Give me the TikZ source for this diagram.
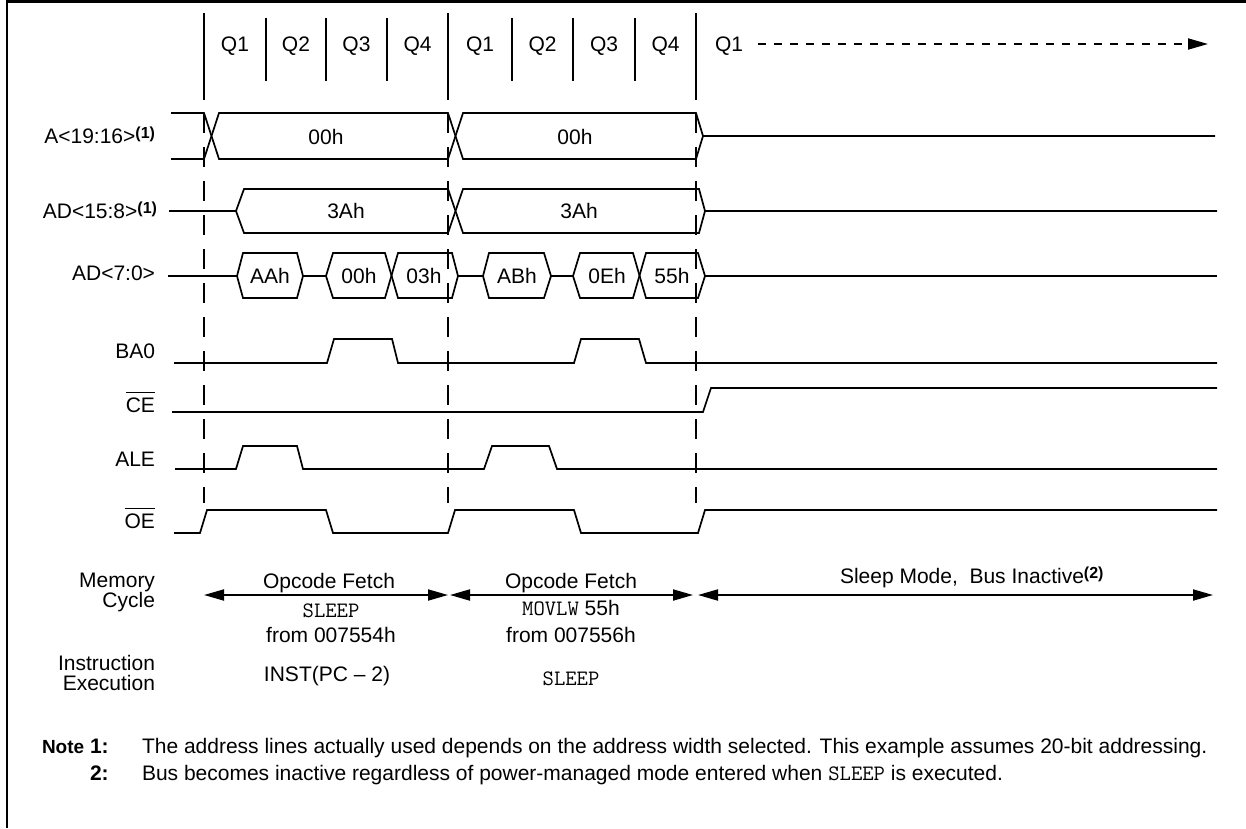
\documentclass[tikz,border=0pt]{standalone}
\usepackage{fontspec}
\setmainfont{Liberation Sans}
\usetikzlibrary{arrows.meta}
\newcommand\supn[1]{\raisebox{5pt}{\fontsize{16}{16}\selectfont\bfseries(#1)}}
\newcommand\ovl[1]{\leavevmode\vbox{\hrule height 1.5pt\kern 4pt\hbox{#1}}}
\newcommand\cw[1]{{\fontsize{22}{21}\selectfont\ttfamily #1}}
\begin{document}
\begin{tikzpicture}[x=1pt,y=-1pt,
  every node/.style={inner sep=0pt,outer sep=0pt,font=\fontsize{21}{21}\selectfont},
  >={Triangle[length=20pt,width=11pt]},
  sig/.style={line width=1.7pt,line join=miter},
  hdr/.style={line width=1.9pt},
  dsh/.style={line width=1.9pt,dash pattern=on 20pt off 14pt},
  frm/.style={line width=2.6pt},
  lbl/.style={anchor=base east},
  txt/.style={anchor=base},
  marr/.style={line width=1.9pt,<->}]
\useasboundingbox (0,0) rectangle (1246,828);
% frame
\draw[frm] (6,1.3) -- (1246,1.3);
\draw[frm] (7,0) -- (7,828);
% header
\foreach \x in {204,448,696} \draw[hdr] (\x,13) -- (\x,100);
\foreach \x in {266,326,387,512,573,635} \draw[hdr] (\x,18) -- (\x,81);
\node[txt] (q11) at (235,51) {Q1};
\node[txt] (q12) at (296,51) {Q2};
\node[txt] (q13) at (356.5,51) {Q3};
\node[txt] (q14) at (417.5,51) {Q4};
\node[txt] (q21) at (480,51) {Q1};
\node[txt] (q22) at (542.5,51) {Q2};
\node[txt] (q23) at (604,51) {Q3};
\node[txt] (q24) at (665.5,51) {Q4};
\node[anchor=base west] (q31) at (715,51) {Q1};
\coordinate (qa) at (758,44);
\coordinate (qb) at (1208,44);
\draw[line width=1.9pt,dash pattern=on 8pt off 8pt,->] (qa) -- (qb);
% dashed cycle boundaries
\foreach \x in {204,448,696} \draw[dsh] (\x,113) -- (\x,503);
% signal labels
\node[lbl] (lA) at (155,143) {A<19:16>\supn{1}};
\node[lbl] (lAD) at (157,218) {AD<15:8>\supn{1}};
\node[lbl] (lAD7) at (155,280) {AD<7:0>};
\node[lbl] (lBA) at (155,358) {BA0};
\node[lbl] (lCE) at (155,412) {\ovl{CE}};
\node[lbl] (lALE) at (155,466) {ALE};
\node[lbl] (lOE) at (155,528) {\ovl{OE}};
% A<19:16>
\draw[sig] (171,113) -- (204,113) -- (219,159) -- (448,159) -- (463,113) -- (696,113) -- (703,136) -- (1215,136);
\draw[sig] (171,159) -- (204,159) -- (219,113) -- (448,113) -- (463,159) -- (696,159) -- (703,136);
\node[txt] (a1) at (326,144) {00h};
\node[txt] (a2) at (575,144) {00h};
% AD<15:8>
\draw[sig] (169,211) -- (236,211) -- (244,189) -- (448,189) -- (463,233) -- (699,233) -- (705,211) -- (1217,211);
\draw[sig] (236,211) -- (244,233) -- (448,233) -- (463,189) -- (699,189) -- (705,211);
\node[txt] (b1) at (346,218) {3Ah};
\node[txt] (b2) at (579,218) {3Ah};
% AD<7:0>
\draw[sig] (168,276) -- (237,276);
\draw[sig] (237,276) -- (243,253) -- (297,253) -- (303,276) -- (297,298) -- (243,298) -- cycle;
\draw[sig] (303,276) -- (326,276);
\draw[sig] (326,276) -- (333,253) -- (385,253) -- (398,298) -- (452,298) -- (458,276);
\draw[sig] (326,276) -- (333,298) -- (385,298) -- (398,253) -- (452,253) -- (458,276);
\draw[sig] (458,276) -- (483,276);
\draw[sig] (483,276) -- (489,253) -- (544,253) -- (551,276) -- (544,298) -- (489,298) -- cycle;
\draw[sig] (551,276) -- (573,276);
\draw[sig] (573,276) -- (580,253) -- (633,253) -- (646,298) -- (698,298) -- (705,276);
\draw[sig] (573,276) -- (580,298) -- (633,298) -- (646,253) -- (698,253) -- (705,276);
\draw[sig] (705,276) -- (1217,276);
\node[txt] (c1) at (270,283) {AAh};
\node[txt] (c2) at (359,283) {00h};
\node[txt] (c3) at (424,283) {03h};
\node[txt] (c4) at (517,283) {ABh};
\node[txt] (c5) at (607,283) {0Eh};
\node[txt] (c6) at (672,283) {55h};
% BA0
\draw[sig] (174,363) -- (327,363) -- (334,339) -- (392,339) -- (398,363) -- (574,363) -- (581,339) -- (639,339) -- (646,363) -- (1217,363);
% CE
\draw[sig] (172,412) -- (703,412) -- (711,388) -- (1217,388);
% ALE
\draw[sig] (175,469) -- (236,469) -- (243,446) -- (297,446) -- (303,469) -- (484,469) -- (492,446) -- (549,446) -- (557,469) -- (1217,469);
% OE
\draw[sig] (174,533) -- (200,533) -- (207,510) -- (326,510) -- (333,533) -- (448,533) -- (455,510) -- (574,510) -- (581,533) -- (698,533) -- (705,510) -- (1217,510);
% memory cycle
\node[lbl] (mem1) at (155,587) {Memory};
\node[lbl] (mem2) at (155,607) {Cycle};
\node[lbl] (ins1) at (155,670) {Instruction};
\node[lbl] (ins2) at (155,690) {Execution};
\coordinate (m0) at (204,595);
\coordinate (m1) at (448,595);
\coordinate (m2) at (450,595);
\coordinate (m3) at (693,595);
\coordinate (m4) at (698,595);
\coordinate (m5) at (1213,595);
\draw[marr] (m0) -- (m1);
\draw[marr] (m2) -- (m3);
\draw[marr] (m4) -- (m5);
\node[txt] (f1) at (329,588) {Opcode Fetch};
\node[txt] (f2) at (571,588) {Opcode Fetch};
\node[txt] (s1) at (331,617) {\cw{SLEEP}};
\node[txt] (s2) at (571,615) {\cw{MOVLW} 55h};
\node[txt] (r1) at (331,642) {from 007554h};
\node[txt] (r2) at (571,642) {from 007556h};
\node[txt] (e1) at (327,681) {INST(PC – 2)};
\node[txt] (e2) at (571,685) {\cw{SLEEP}};
\node[anchor=base west] (sl) at (840,583) {Sleep Mode,\ \ Bus Inactive\supn{2}};
% notes
\node[anchor=base west] (nt) at (42,753) {\fontsize{19}{19}\selectfont\bfseries Note};
\node[anchor=base west] (n1) at (90,753) {\bfseries 1:};
\node[anchor=base west] (n1t) at (142,753) {The address lines actually used depends on the address width selected. This example assumes 20-bit addressing.};
\node[anchor=base west] (n2) at (90,780) {\bfseries 2:};
\node[anchor=base west] (n2t) at (142,780) {Bus becomes inactive regardless of power-managed mode entered when \cw{SLEEP} is executed.};
\end{tikzpicture}
\end{document}
